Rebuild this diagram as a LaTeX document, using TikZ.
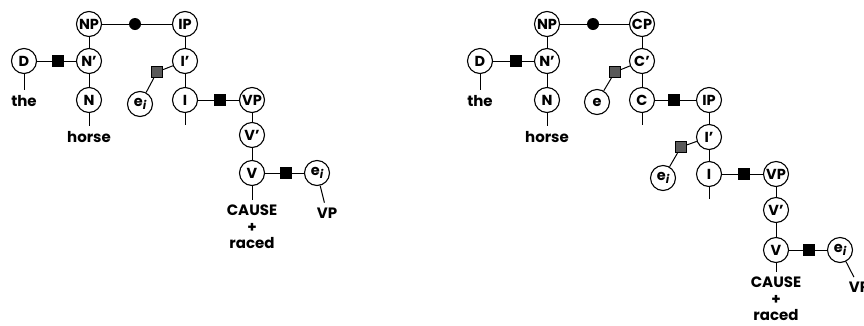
\documentclass[tikz,border=0pt]{standalone}
\usepackage{fontspec}
\setmainfont{Poppins}
\begin{document}
\begin{tikzpicture}[x=1pt,y=-1pt,
  cat/.style={circle,draw,line width=1.1pt,fill=white,minimum size=25pt,inner sep=0pt,
              font=\fontsize{14.5}{14.5}\selectfont\bfseries},
  bsq/.style={rectangle,fill=black,minimum size=12pt,inner sep=0pt},
  gsq/.style={rectangle,fill=black!65,draw=black,line width=0.7pt,minimum size=11.5pt,inner sep=0pt},
  bdot/.style={circle,fill=black,minimum size=12pt,inner sep=0pt},
  word/.style={inner sep=0pt,font=\fontsize{15}{16.3}\selectfont\bfseries,align=center},
  link/.style={line width=1pt},
  tolabel/.style={link,shorten >=5pt}]
\newcommand{\trace}{e\raisebox{-2.5pt}{\fontsize{11.5}{11.5}\selectfont\itshape i}}
\useasboundingbox (0,0) rectangle (864,325);

% ---------- left structure ----------
\node[cat] (lNP) at (89,24) {NP};
\node[bdot] (ldot) at (135,24) {};
\node[cat] (lIP) at (185,24) {IP};
\node[cat] (lD) at (24,61) {D};
\node[bsq] (lDsq) at (58,61) {};
\node[cat] (lNb) at (89,61) {N'};
\node[cat] (lN) at (89,100) {N};
\node[word] (lthe) at (24,101) {the};
\node[word] (lhorse) at (89,137) {horse};
\node[cat] (lIb) at (185,61) {I'};
\node[gsq] (lgsq) at (157,72) {};
\node[cat] (lei) at (140,104) {\trace};
\node[cat] (lI) at (185,100) {I};
\node[bsq] (lIsq) at (220,100) {};
\node[cat] (lVP) at (252,100) {VP};
\node[cat] (lVb) at (252,135) {V'};
\node[cat] (lV) at (252,173) {V};
\node[bsq] (lVsq) at (286,173) {};
\node[cat] (lej) at (317,173) {\trace};
\node[word,anchor=north] (lcause) at (252,205) {CAUSE\\+\\raced};
\node[word] (lvp) at (327,213) {VP};
\coordinate (lIend) at (185,125);

\draw[link] (lNP) -- (ldot) -- (lIP);
\draw[link] (lNP) -- (lNb) -- (lN);
\draw[tolabel] (lN) -- (lhorse);
\draw[link] (lD) -- (lDsq) -- (lNb);
\draw[tolabel] (lD) -- (lthe);
\draw[link] (lIP) -- (lIb) -- (lI) -- (lIend);
\draw[link] (lei) -- (lgsq) -- (lIb);
\draw[link] (lI) -- (lIsq) -- (lVP);
\draw[link] (lVP) -- (lVb) -- (lV);
\draw[tolabel] (lV) -- (lcause);
\draw[link] (lV) -- (lVsq) -- (lej);
\draw[tolabel] (lej) -- (lvp);

% ---------- right structure ----------
\node[cat] (rNP) at (547,24) {NP};
\node[bdot] (rdot) at (593,24) {};
\node[cat] (rCP) at (642,24) {CP};
\node[cat] (rD) at (480,61) {D};
\node[bsq] (rDsq) at (516,61) {};
\node[cat] (rNb) at (547,61) {N'};
\node[cat] (rN) at (547,100) {N};
\node[word] (rthe) at (480,101) {the};
\node[word] (rhorse) at (547,137) {horse};
\node[cat] (rCb) at (642,61) {C'};
\node[gsq] (rgsq) at (615,72) {};
\node[cat] (re) at (597,102) {e};
\node[cat] (rC) at (642,100) {C};
\node[bsq] (rCsq) at (674,100) {};
\node[cat] (rIP) at (709,100) {IP};
\node[cat] (rIb) at (709,137) {I'};
\node[gsq] (rgsq2) at (681,147) {};
\node[cat] (rei) at (663,178) {\trace};
\node[cat] (rI) at (709,174) {I};
\node[bsq] (rIsq) at (744,174) {};
\node[cat] (rVP) at (776,174) {VP};
\node[cat] (rVb) at (776,210) {V'};
\node[cat] (rV) at (776,250) {V};
\node[bsq] (rVsq) at (809,250) {};
\node[cat] (rej) at (840,250) {\trace};
\node[word,anchor=north] (rcause) at (776,277) {CAUSE\\+\\raced};
\node[word] (rvp) at (859,287) {VP};
\coordinate (rCend) at (642,125);
\coordinate (rIend) at (709,199);

\draw[link] (rNP) -- (rdot) -- (rCP);
\draw[link] (rNP) -- (rNb) -- (rN);
\draw[tolabel] (rN) -- (rhorse);
\draw[link] (rD) -- (rDsq) -- (rNb);
\draw[tolabel] (rD) -- (rthe);
\draw[link] (rCP) -- (rCb) -- (rC) -- (rCend);
\draw[link] (re) -- (rgsq) -- (rCb);
\draw[link] (rC) -- (rCsq) -- (rIP);
\draw[link] (rIP) -- (rIb) -- (rI) -- (rIend);
\draw[link] (rei) -- (rgsq2) -- (rIb);
\draw[link] (rI) -- (rIsq) -- (rVP);
\draw[link] (rVP) -- (rVb) -- (rV);
\draw[tolabel] (rV) -- (rcause);
\draw[link] (rV) -- (rVsq) -- (rej);
\draw[tolabel] (rej) -- (rvp);
\end{tikzpicture}
\end{document}
